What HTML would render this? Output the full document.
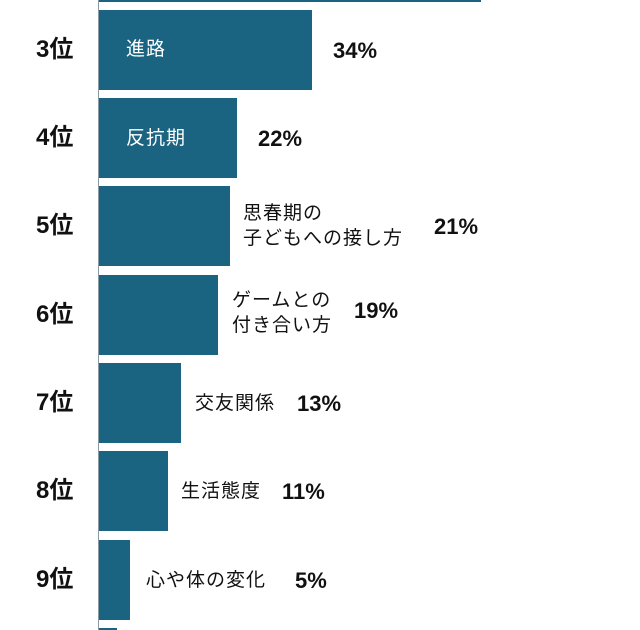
<!DOCTYPE html>
<html><head><meta charset="utf-8"><style>
body{margin:0;width:640px;height:630px;background:#fff;position:relative;overflow:hidden;font-family:"Liberation Sans","Noto Sans CJK JP",sans-serif;}
.b{position:absolute;left:99px;background:#1a6482;}
.r{position:absolute;left:36px;font-weight:bold;font-size:24px;color:#111;line-height:1;}
.t{position:absolute;font-size:19px;letter-spacing:1px;color:#111;line-height:25px;white-space:nowrap;}
.p{position:absolute;font-size:22px;font-weight:bold;color:#111;line-height:1;}
.w{color:#fff;}
</style></head><body>
<div style="position:absolute;left:98px;top:0;width:1px;height:630px;background:#8a9aa2"></div>
<div class="b" style="top:0;height:2px;width:382px"></div>
<div class="b" style="top:10px;height:80px;width:213px"></div>
<div class="b" style="top:98px;height:80px;width:138px"></div>
<div class="b" style="top:186px;height:80px;width:131px"></div>
<div class="b" style="top:275px;height:80px;width:119px"></div>
<div class="b" style="top:363px;height:80px;width:82px"></div>
<div class="b" style="top:451px;height:80px;width:69px"></div>
<div class="b" style="top:540px;height:80px;width:31px"></div>
<div class="b" style="top:628px;height:2px;width:18px"></div>

<div class="r" style="top:38px">3位</div>
<div class="r" style="top:126px">4位</div>
<div class="r" style="top:214px">5位</div>
<div class="r" style="top:303px">6位</div>
<div class="r" style="top:391px">7位</div>
<div class="r" style="top:479px">8位</div>
<div class="r" style="top:568px">9位</div>

<div class="t w" style="left:126px;top:37px">進路</div>
<div class="p" style="left:333px;top:40px">34%</div>
<div class="t w" style="left:126px;top:126px">反抗期</div>
<div class="p" style="left:258px;top:128px">22%</div>
<div class="t" style="left:243px;top:201px">思春期の<br>子どもへの接し方</div>
<div class="p" style="left:434px;top:216px">21%</div>
<div class="t" style="left:232px;top:288px">ゲームとの<br>付き合い方</div>
<div class="p" style="left:354px;top:300px">19%</div>
<div class="t" style="left:195px;top:391px">交友関係</div>
<div class="p" style="left:297px;top:393px">13%</div>
<div class="t" style="left:181px;top:479px">生活態度</div>
<div class="p" style="left:282px;top:481px">11%</div>
<div class="t" style="left:146px;top:568px">心や体の変化</div>
<div class="p" style="left:295px;top:570px">5%</div>
</body></html>
